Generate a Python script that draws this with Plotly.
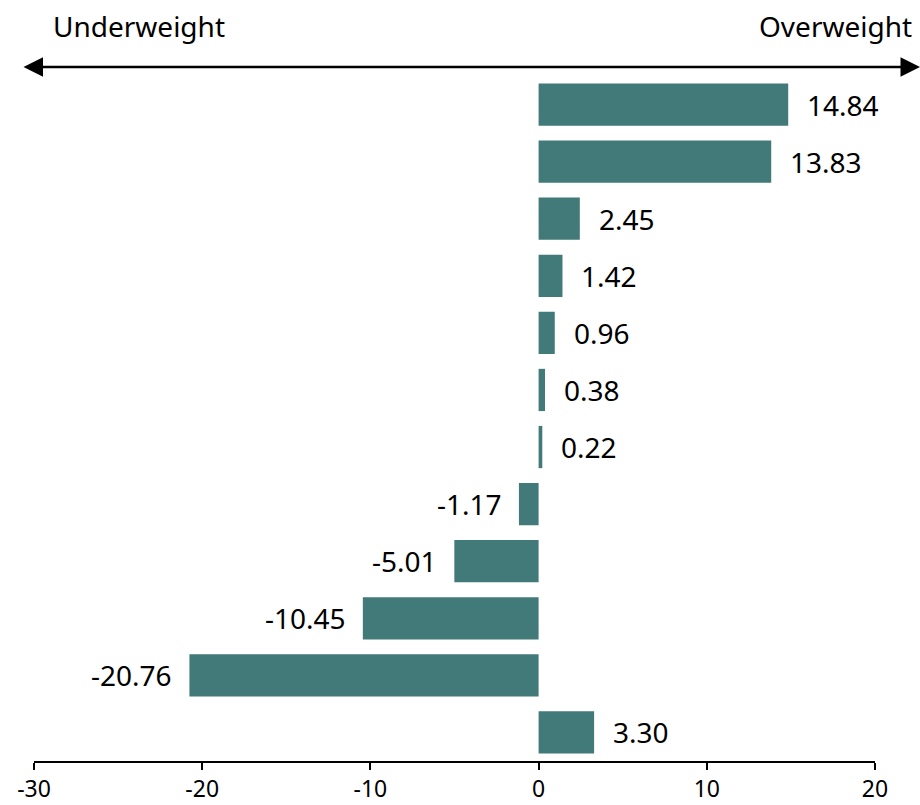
import plotly.graph_objects as go

categories = ["Cat 1", "Cat 2", "Cat 3", "Cat 4", "Cat 5", "Cat 6",
              "Cat 7", "Cat 8", "Cat 9", "Cat 10", "Cat 11", "Cat 12"]
values = [14.84, 13.83, 2.45, 1.42, 0.96, 0.38, 0.22, -1.17, -5.01, -10.45, -20.76, 3.30]
x_ticks = [-30, -20, -10, 0, 10, 20]
left_label = "Underweight"
right_label = "Overweight"

BAR_COLOR = "#417A79"
FONT = "Noto Sans, Open Sans, sans-serif"

fig = go.Figure()
fig.add_trace(go.Bar(
    x=values, y=categories, orientation="h",
    marker=dict(color=BAR_COLOR, line=dict(width=0)),
    hoverinfo="x",
))

annotations = []
for c, v in zip(categories, values):
    annotations.append(dict(
        x=v, y=c, xref="x", yref="y",
        text=f"{v:.2f}", showarrow=False,
        xanchor="left" if v >= 0 else "right",
        xshift=17 if v >= 0 else -15,
        font=dict(family=FONT, size=28, color="black"),
    ))

# double-headed arrow
annotations.append(dict(
    x=1.0535, y=1.0131, xref="x domain", yref="y domain",
    ax=-0.0143, ay=1.0131, axref="x domain", ayref="y domain",
    text="", showarrow=True, arrowhead=2, arrowside="end+start",
    arrowsize=1.5, arrowwidth=2.6, arrowcolor="black",
))
annotations.append(dict(
    x=51, y=26, xref="paper", yref="paper",
    text=left_label, showarrow=False, xanchor="left", yanchor="middle",
    font=dict(family=FONT, size=28, color="black"),
))
annotations.append(dict(
    x=914, y=26, xref="paper", yref="paper",
    text=right_label, showarrow=False, xanchor="right", yanchor="middle",
    font=dict(family=FONT, size=28, color="black"),
))
# convert pixel positions for header labels into paper coordinates
L, R, T, B = 34, 45, 76, 44
W, H = 920, 805
for a in annotations[-2:]:
    a["x"] = (a["x"] - L) / (W - L - R)
    a["y"] = (H - B - a["y"]) / (H - T - B)

fig.update_layout(
    width=W, height=H,
    margin=dict(l=L, r=R, t=T, b=B),
    paper_bgcolor="white", plot_bgcolor="white",
    showlegend=False,
    bargap=0.26,
    annotations=annotations,
    xaxis=dict(
        range=[-30, 20], tickvals=x_ticks, ticktext=[str(t) for t in x_ticks],
        showgrid=False, zeroline=False, automargin=False,
        showline=True, linecolor="black", linewidth=1.5,
        ticks="outside", ticklen=7, tickwidth=1.5, tickcolor="black",
        tickfont=dict(family=FONT, size=23, color="black"),
        fixedrange=True,
    ),
    yaxis=dict(
        autorange="reversed", showticklabels=False, showgrid=False,
        zeroline=False, showline=False, ticks="", automargin=False,
    ),
)

fig.write_html("out.html", config={"displayModeBar": False},
               post_script="document.body.style.margin='0';")
